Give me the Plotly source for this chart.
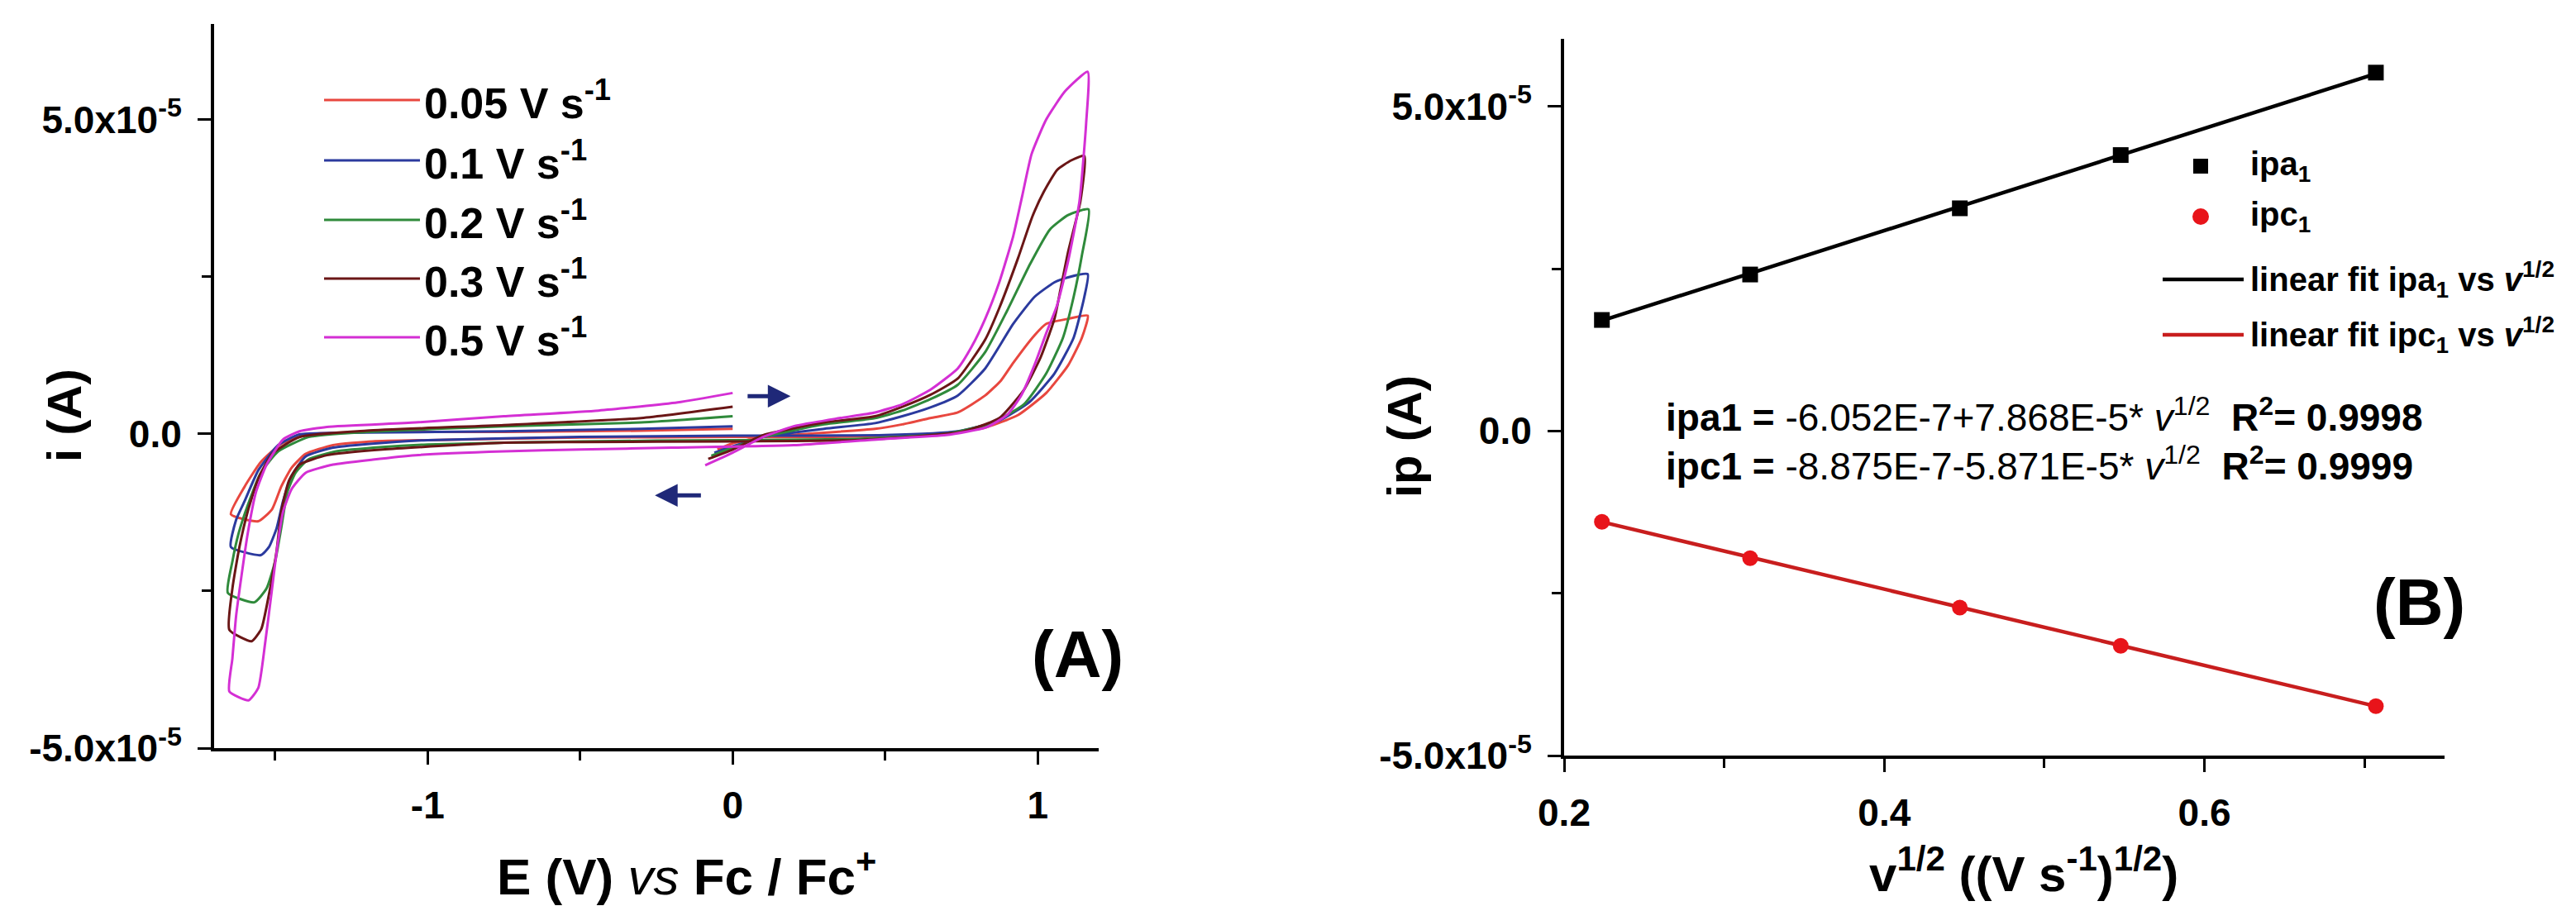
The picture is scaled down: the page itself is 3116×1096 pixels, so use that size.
import plotly.graph_objects as go

W, H = 3116, 1096
FONT = "Liberation Sans, Arial, sans-serif"

# ---------------- Panel A : cyclic voltammograms (E / V, i / 1e-5 A) ----------------
scan_labels = ["0.05 V s<sup>-1</sup>", "0.1 V s<sup>-1</sup>", "0.2 V s<sup>-1</sup>",
               "0.3 V s<sup>-1</sup>", "0.5 V s<sup>-1</sup>"]
cv_colors = ["#e8473f", "#2b3a9e", "#2f8a3b", "#6a1616", "#d42fd4"]

E_005 = [-0.05, 0.0, 0.1, 0.25, 0.467, 0.556, 0.648, 0.738, 0.828, 0.88, 0.92, 0.99, 1.028, 1.10, 1.164,
         1.145, 1.10, 1.028, 0.936, 0.828, 0.648, 0.3, 0.0, -0.5, -1.0, -1.18, -1.31, -1.40, -1.446, -1.48,
         -1.51, -1.555, -1.645, -1.60, -1.547, -1.48, -1.39, -1.2, -0.75, -0.3, 0.0]
I_005 = [-0.25, -0.15, -0.05, 0.0, 0.08, 0.15, 0.25, 0.34, 0.61, 0.85, 1.13, 1.57, 1.75, 1.83, 1.88,
         1.53, 1.09, 0.65, 0.30, 0.10, -0.01, -0.05, -0.05, -0.06, -0.10, -0.12, -0.18, -0.32, -0.54, -0.84,
         -1.20, -1.39, -1.28, -0.84, -0.45, -0.16, -0.01, 0.03, 0.03, 0.05, 0.08]

E_01 = [-0.06, 0.0, 0.1, 0.3, 0.467, 0.556, 0.648, 0.738, 0.828, 0.92, 0.99, 1.055, 1.10, 1.164,
        1.153, 1.118, 1.055, 0.974, 0.874, 0.738, 0.5, 0.0, -0.5, -1.0, -1.19, -1.31, -1.40, -1.446, -1.474,
        -1.495, -1.52, -1.547, -1.645, -1.628, -1.60, -1.555, -1.49, -1.42, -1.2, -0.75, -0.3, 0.0]
I_01 = [-0.30, -0.20, -0.05, 0.08, 0.17, 0.28, 0.42, 0.61, 1.04, 1.75, 2.18, 2.41, 2.49, 2.54,
        2.18, 1.53, 0.96, 0.51, 0.21, 0.04, -0.02, -0.03, -0.05, -0.10, -0.16, -0.22, -0.36, -0.67, -1.07,
        -1.50, -1.80, -1.93, -1.80, -1.37, -1.07, -0.58, -0.18, -0.01, 0.02, 0.04, 0.08, 0.12]

E_02 = [-0.07, 0.0, 0.1, 0.3, 0.467, 0.556, 0.648, 0.738, 0.828, 0.90, 0.975, 1.04, 1.10, 1.167,
        1.145, 1.118, 1.083, 1.028, 0.955, 0.847, 0.7, 0.4, 0.0, -0.5, -1.0, -1.148, -1.30, -1.392, -1.433,
        -1.46, -1.48, -1.50, -1.528, -1.568, -1.655, -1.64, -1.62, -1.59, -1.547, -1.49, -1.39, -1.2, -0.75,
        -0.3, 0.0]
I_02 = [-0.35, -0.22, -0.05, 0.15, 0.25, 0.37, 0.55, 0.78, 1.30, 1.96, 2.70, 3.25, 3.48, 3.57,
        2.84, 2.18, 1.53, 0.96, 0.47, 0.17, 0.0, -0.08, -0.10, -0.12, -0.17, -0.21, -0.28, -0.41, -0.62,
        -0.93, -1.50, -2.03, -2.46, -2.68, -2.53, -2.03, -1.59, -1.14, -0.62, -0.28, -0.05, 0.03, 0.12,
        0.18, 0.28]

E_03 = [-0.08, 0.0, 0.1, 0.3, 0.467, 0.556, 0.648, 0.738, 0.828, 0.874, 0.936, 0.982, 1.02, 1.064, 1.11, 1.153,
        1.14, 1.10, 1.075, 1.055, 1.01, 0.955, 0.874, 0.75, 0.4, 0.0, -0.5, -0.75, -1.148, -1.33, -1.42,
        -1.455, -1.48, -1.495, -1.52, -1.545, -1.577, -1.65, -1.64, -1.617, -1.59, -1.555, -1.51, -1.42,
        -1.2, -0.75, -0.3, 0.0]
I_03 = [-0.40, -0.25, -0.02, 0.18, 0.28, 0.43, 0.62, 0.88, 1.50, 2.00, 2.80, 3.45, 3.85, 4.20, 4.35, 4.42,
        3.70, 2.90, 2.30, 1.83, 1.22, 0.70, 0.25, 0.03, -0.10, -0.12, -0.13, -0.14, -0.25, -0.34, -0.49,
        -0.75, -1.24, -1.86, -2.55, -3.10, -3.30, -3.12, -2.46, -1.80, -1.24, -0.71, -0.32, -0.05,
        0.05, 0.14, 0.25, 0.43]

E_05 = [-0.09, 0.0, 0.1, 0.2, 0.35, 0.467, 0.556, 0.648, 0.738, 0.784, 0.828, 0.874, 0.92, 0.95, 0.98, 1.028,
        1.09, 1.164, 1.159, 1.137, 1.10, 1.064, 1.028, 0.99, 0.947, 0.90, 0.83, 0.7, 0.5, 0.2, -0.2, -0.5,
        -0.75, -1.04, -1.18, -1.31, -1.40, -1.446, -1.474, -1.493, -1.51, -1.533, -1.555, -1.587, -1.65,
        -1.64, -1.628, -1.61, -1.59, -1.563, -1.528, -1.474, -1.42, -1.33, -1.04, -0.75, -0.44, -0.18, 0.0]
I_05 = [-0.50, -0.30, -0.05, 0.12, 0.25, 0.34, 0.47, 0.70, 1.04, 1.39, 1.83, 2.41, 3.15, 3.80, 4.45, 5.00,
        5.45, 5.76, 4.95, 3.70, 2.75, 2.05, 1.60, 1.10, 0.62, 0.30, 0.10, -0.02, -0.08, -0.18, -0.22, -0.25,
        -0.28, -0.34, -0.41, -0.49, -0.62, -0.88, -1.24, -1.80, -2.46, -3.34, -4.04, -4.24, -4.10,
        -3.57, -2.90, -2.25, -1.59, -0.93, -0.49, -0.09, 0.04, 0.11, 0.18, 0.28, 0.37, 0.50, 0.65]

cv_E = [E_005, E_01, E_02, E_03, E_05]
cv_I = [I_005, I_01, I_02, I_03, I_05]
I_UNIT = 1e-5

# ---------------- Panel B : peak currents vs sqrt(scan rate) ----------------
sqrt_v = [0.2236, 0.3162, 0.4472, 0.5477, 0.7071]
ipa = [1.71, 2.41, 3.43, 4.25, 5.52]        # 1e-5 A
ipc = [-1.40, -1.96, -2.72, -3.31, -4.24]   # 1e-5 A
fit_intercept = [-6.052e-7, -8.875e-7]
fit_slope = [7.868e-5, -5.871e-5]

# tick labels
y_tickvals = [-5e-5, 0.0, 5e-5]
y_ticktext = ["<b>-5.0x10<sup>-5</sup></b>", "<b>0.0</b>", "<b>5.0x10<sup>-5</sup></b>"]
xA_tickvals = [-1, 0, 1]
xA_ticktext = ["<b>-1</b>", "<b>0</b>", "<b>1</b>"]
xB_tickvals = [0.2, 0.4, 0.6]
xB_ticktext = ["<b>0.2</b>", "<b>0.4</b>", "<b>0.6</b>"]


def px(x):
    return x / W


def py(y):
    return 1 - y / H


fig = go.Figure()

for E, I, col, lab in zip(cv_E, cv_I, cv_colors, scan_labels):
    fig.add_trace(go.Scatter(
        x=E, y=[v * I_UNIT for v in I], mode="lines", name=lab.replace("<sup>", "").replace("</sup>", ""),
        line=dict(color=col, width=3, shape="spline", smoothing=0.5),
        xaxis="x", yaxis="y", showlegend=False))

x_fit = [min(sqrt_v), max(sqrt_v)]
fit_colors = ["#000000", "#c81e1e"]
for b0, b1, col, nm in zip(fit_intercept, fit_slope, fit_colors, ["linear fit ipa1", "linear fit ipc1"]):
    fig.add_trace(go.Scatter(
        x=x_fit, y=[b0 + b1 * xv for xv in x_fit], mode="lines", name=nm,
        line=dict(color=col, width=4.5), xaxis="x2", yaxis="y2", showlegend=False))

fig.add_trace(go.Scatter(x=sqrt_v, y=[v * I_UNIT for v in ipa], mode="markers", name="ipa1",
                         marker=dict(symbol="square", size=19, color="#000000"),
                         xaxis="x2", yaxis="y2", showlegend=False))
fig.add_trace(go.Scatter(x=sqrt_v, y=[v * I_UNIT for v in ipc], mode="markers", name="ipc1",
                         marker=dict(symbol="circle", size=19, color="#e8141a"),
                         xaxis="x2", yaxis="y2", showlegend=False))

axis_common = dict(showline=True, linecolor="black", linewidth=4, ticks="outside", ticklen=16,
                   tickwidth=3, tickcolor="black", showgrid=False, zeroline=False, automargin=False,
                   tickfont=dict(family=FONT, size=46, color="black"), tickmode="array",
                   ticklabelstandoff=10)

fig.update_layout(
    width=W, height=H, margin=dict(l=0, r=0, t=0, b=0, pad=0, autoexpand=False),
    paper_bgcolor="white", plot_bgcolor="white", showlegend=False,
    font=dict(family=FONT, color="black"),
    xaxis=dict(domain=[px(251), px(1321)], range=[-1.70, 1.20], anchor="y",
               tickvals=xA_tickvals, ticktext=xA_ticktext,
               minor=dict(tickvals=[-1.5, -0.5, 0.5], ticks="outside", ticklen=11, tickwidth=3,
                          tickcolor="black"),
               **axis_common),
    yaxis=dict(domain=[py(897), py(21)], range=[-5e-5, 6.52e-5], anchor="x",
               tickvals=y_tickvals, ticktext=y_ticktext,
               minor=dict(tickvals=[-2.5e-5, 2.5e-5], ticks="outside", ticklen=11, tickwidth=3,
                          tickcolor="black"),
               **axis_common),
    xaxis2=dict(domain=[px(1884), px(2949)], range=[0.2, 0.75], anchor="y2",
                tickvals=xB_tickvals, ticktext=xB_ticktext,
                minor=dict(tickvals=[0.3, 0.5, 0.7], ticks="outside", ticklen=11, tickwidth=3,
                           tickcolor="black"),
                **axis_common),
    yaxis2=dict(domain=[py(906), py(39)], range=[-5e-5, 6.04e-5], anchor="x2",
                tickvals=y_tickvals, ticktext=y_ticktext,
                minor=dict(tickvals=[-2.5e-5, 2.5e-5], ticks="outside", ticklen=11, tickwidth=3,
                           tickcolor="black"),
                **axis_common),
)

ann = []
shapes = []


def text(x, y, s, size, xanchor="center", yanchor="middle", angle=0):
    ann.append(dict(x=px(x), y=py(y), xref="paper", yref="paper", text=s, showarrow=False,
                    xanchor=xanchor, yanchor=yanchor, textangle=angle,
                    font=dict(family=FONT, size=size, color="black")))


# axis titles
text(69, 495, "<b>i (A)</b>", 58, angle=-90)
text(822, 1048, "<b>E (V)</b> <i>vs</i> <b>Fc / Fc<sup>+</sup></b>", 62)
text(1690, 520, "<b>ip (A)</b>", 58, angle=-90)
text(2440, 1045, "<b>v<sup>1/2</sup> ((V s<sup>-1</sup>)<sup>1/2</sup>)</b>", 60)

# panel labels
text(1295, 783, "<b>(A)</b>", 80)
text(2918, 720, "<b>(B)</b>", 80)

# equations
text(2005, 494, "<b>ipa1 = </b>-6.052E-7+7.868E-5* <i>v</i><sup>1/2</sup>&nbsp;&nbsp;<b>R<sup>2</sup>= 0.9998</b>",
     46, xanchor="left")
text(2005, 553, "<b>ipc1 = </b>-8.875E-7-5.871E-5* <i>v</i><sup>1/2</sup>&nbsp;&nbsp;<b>R<sup>2</sup>= 0.9999</b>",
     46, xanchor="left")

# legend, panel A
leg_rows = [113, 186, 258, 329, 400]
for yrow, col, lab in zip(leg_rows, cv_colors, scan_labels):
    shapes.append(dict(type="line", xref="paper", yref="paper", x0=px(384), x1=px(500),
                       y0=py(yrow), y1=py(yrow), line=dict(color=col, width=3)))
    text(503, yrow, "<b>" + lab + "</b>", 52, xanchor="left")

# legend, panel B
shapes.append(dict(type="rect", xref="paper", yref="paper", x0=px(2645), x1=px(2663),
                   y0=py(202), y1=py(184), fillcolor="black", line=dict(width=0)))
shapes.append(dict(type="circle", xref="paper", yref="paper", x0=px(2644), x1=px(2664),
                   y0=py(264), y1=py(244), fillcolor="#e8141a", line=dict(width=0)))
shapes.append(dict(type="line", xref="paper", yref="paper", x0=px(2608), x1=px(2706),
                   y0=py(330), y1=py(330), line=dict(color="black", width=4.5)))
shapes.append(dict(type="line", xref="paper", yref="paper", x0=px(2608), x1=px(2706),
                   y0=py(397), y1=py(397), line=dict(color="#c81e1e", width=4.5)))
text(2712, 193, "<b>ipa<sub>1</sub></b>", 40, xanchor="left")
text(2712, 254, "<b>ipc<sub>1</sub></b>", 40, xanchor="left")
text(2712, 330, "<b>linear fit ipa<sub>1</sub> vs <i>v</i><sup>1/2</sup></b>", 40, xanchor="left")
text(2712, 397, "<b>linear fit ipc<sub>1</sub> vs <i>v</i><sup>1/2</sup></b>", 40, xanchor="left")

# scan direction arrows (panel A)
arrow_col = "#1f2878"
ann.append(dict(x=0.19, y=0.6e-5, ax=0.045, ay=0.6e-5, xref="x", yref="y", axref="x", ayref="y",
                text="", showarrow=True, arrowhead=2, arrowsize=1.1, arrowwidth=5, arrowcolor=arrow_col))
ann.append(dict(x=-0.255, y=-0.98e-5, ax=-0.10, ay=-0.98e-5, xref="x", yref="y", axref="x", ayref="y",
                text="", showarrow=True, arrowhead=2, arrowsize=1.1, arrowwidth=5, arrowcolor=arrow_col))

fig.update_layout(annotations=ann, shapes=shapes)
fig.write_html("out.html")
